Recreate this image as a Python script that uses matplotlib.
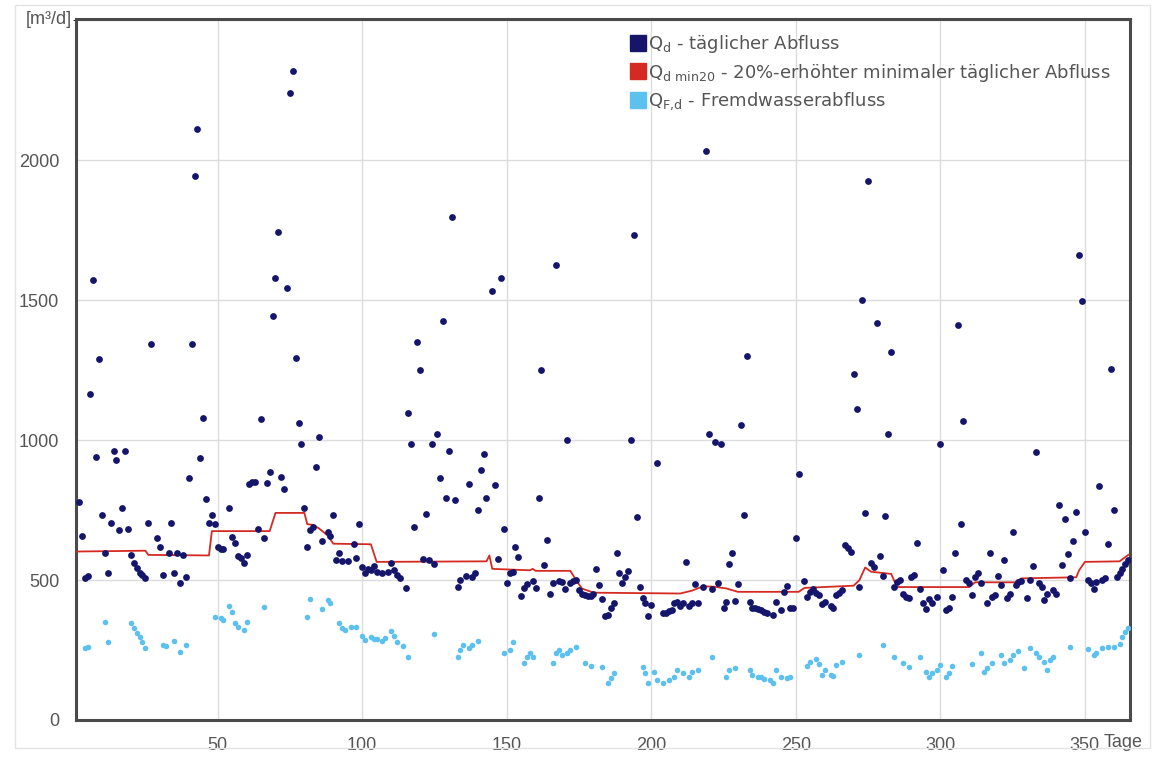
import matplotlib
matplotlib.use("Agg")
import matplotlib.pyplot as plt
from matplotlib.lines import Line2D
from matplotlib.patches import Rectangle

plt.rcParams['font.family'] = ['Liberation Sans', 'DejaVu Sans']

# ---- data -------------------------------------------------------------
qd_days = [2, 3, 4, 5, 6, 7, 8, 9, 10, 11, 12, 13, 14, 15, 16, 17, 18, 19, 20, 21,
           22, 23, 24, 25, 26, 27, 29, 30, 31, 33, 34, 35, 36, 37, 38, 39, 40, 41, 42, 43,
           44, 45, 46, 47, 48, 49, 50, 51, 52, 54, 55, 56, 57, 58, 59, 60, 61, 62, 63, 64,
           65, 66, 67, 68, 69, 70, 71, 72, 73, 74, 75, 76, 77, 78, 79, 80, 81, 82, 83, 84,
           85, 86, 88, 89, 90, 91, 92, 93, 95, 97, 98, 99, 100, 101, 102, 103, 104, 105, 107, 109,
           110, 111, 112, 113, 115, 116, 117, 118, 119, 120, 121, 122, 123, 124, 125, 126, 127, 128, 129, 130,
           131, 132, 133, 134, 136, 137, 138, 139, 140, 141, 142, 143, 145, 146, 147, 148, 149, 150, 151, 152,
           153, 154, 155, 156, 157, 159, 160, 161, 162, 163, 164, 165, 166, 167, 168, 169, 170, 171, 172, 173,
           174, 175, 176, 177, 178, 179, 180, 181, 182, 183, 184, 185, 186, 187, 188, 189, 190, 191, 192, 193,
           194, 195, 196, 197, 198, 199, 200, 202, 204, 205, 206, 207, 208, 209, 210, 211, 212, 213, 214, 215,
           216, 218, 219, 220, 221, 222, 223, 224, 225, 226, 227, 228, 229, 230, 231, 232, 233, 234, 235, 236,
           237, 238, 239, 240, 242, 243, 245, 246, 247, 248, 249, 250, 251, 253, 254, 255, 256, 257, 258, 259,
           260, 262, 263, 264, 265, 266, 267, 268, 269, 270, 271, 272, 273, 274, 275, 276, 277, 278, 279, 280,
           281, 282, 283, 284, 285, 286, 287, 288, 289, 290, 291, 292, 293, 294, 295, 296, 297, 299, 300, 301,
           302, 303, 304, 305, 306, 307, 308, 309, 310, 311, 312, 313, 314, 316, 317, 318, 319, 320, 321, 322,
           323, 324, 325, 326, 327, 328, 330, 331, 332, 333, 334, 335, 336, 337, 339, 340, 341, 342, 343, 344,
           345, 346, 347, 348, 349, 350, 351, 352, 353, 354, 355, 356, 357, 358, 359, 360, 361, 362, 363, 364,
           365]
qd_vals = [780, 657, 507, 514, 1164, 1571, 939, 1289, 732, 596, 526, 705, 962, 930, 679, 757, 960, 682, 590, 560,
           542, 526, 517, 506, 705, 1345, 649, 618, 517, 595, 705, 524, 596, 490, 589, 512, 864, 1345, 1943, 2111,
           936, 1079, 790, 703, 732, 700, 619, 610, 610, 758, 655, 631, 587, 578, 562, 589, 842, 851, 851, 681,
           1077, 650, 846, 887, 1443, 1579, 1743, 869, 825, 1543, 2239, 2318, 1293, 1063, 988, 758, 617, 678, 690, 905,
           1012, 640, 673, 657, 732, 571, 596, 569, 569, 628, 580, 700, 548, 526, 538, 535, 550, 530, 526, 530,
           562, 535, 518, 506, 470, 1098, 988, 690, 1350, 1250, 574, 736, 571, 988, 556, 1021, 863, 1425, 795, 961,
           1797, 786, 474, 500, 514, 845, 512, 524, 750, 895, 950, 795, 1533, 839, 574, 1580, 684, 490, 526, 530,
           619, 581, 443, 470, 486, 498, 470, 795, 1250, 553, 645, 452, 488, 1625, 498, 494, 467, 1000, 488, 498,
           500, 464, 452, 446, 443, 443, 450, 541, 482, 431, 371, 375, 399, 417, 598, 524, 488, 512, 533, 1002,
           1733, 726, 476, 435, 417, 371, 411, 919, 383, 383, 390, 393, 417, 423, 407, 417, 565, 407, 417, 486,
           419, 476, 2035, 1021, 467, 994, 490, 988, 399, 423, 557, 595, 426, 486, 1054, 732, 1300, 423, 402, 399,
           395, 393, 387, 381, 375, 423, 393, 458, 479, 399, 402, 649, 879, 498, 440, 458, 467, 455, 446, 414,
           423, 407, 402, 446, 455, 464, 625, 613, 601, 1235, 1113, 476, 1500, 740, 1925, 560, 548, 1420, 587, 514,
           729, 1021, 1315, 476, 494, 502, 452, 440, 435, 512, 518, 633, 467, 417, 395, 431, 417, 440, 988, 536,
           393, 399, 440, 595, 1410, 700, 1069, 500, 490, 446, 512, 526, 488, 417, 595, 438, 446, 514, 482, 571,
           435, 452, 673, 482, 494, 498, 435, 500, 550, 958, 490, 476, 429, 452, 464, 450, 768, 553, 717, 593,
           506, 640, 744, 1660, 1497, 673, 502, 488, 467, 494, 836, 502, 506, 628, 1253, 752, 512, 524, 541, 557,
           571]

qmin_days = [1, 25, 26, 47, 48, 68, 70, 80, 81, 83, 85, 88, 90, 103, 105, 143, 144, 145, 158, 159,
             160, 172, 174, 176, 180, 210, 214, 218, 222, 226, 230, 251, 253, 270, 272, 274, 276, 283, 285, 310,
             312, 326, 328, 347, 348, 350, 362, 365]
qmin_vals = [602, 605, 590, 588, 675, 675, 740, 740, 700, 697, 685, 660, 630, 628, 565, 567, 588, 540, 535, 540,
             533, 533, 500, 470, 455, 452, 462, 478, 476, 470, 458, 458, 472, 480, 500, 545, 530, 522, 475, 475,
             492, 492, 506, 510, 535, 565, 567, 590]

qf_days = [4, 5, 11, 12, 20, 21, 22, 23, 24, 25, 31, 32, 35, 37, 39, 49, 51, 52, 54, 55,
           56, 57, 59, 60, 66, 81, 82, 86, 88, 89, 92, 93, 94, 96, 98, 100, 101, 103, 104, 105,
           107, 108, 110, 111, 112, 114, 116, 125, 133, 134, 135, 137, 138, 140, 149, 151, 152, 156, 157, 158,
           159, 166, 167, 168, 169, 171, 172, 174, 177, 179, 183, 185, 186, 187, 197, 198, 199, 201, 202, 204,
           206, 208, 209, 211, 213, 214, 216, 221, 226, 227, 229, 234, 235, 237, 238, 239, 241, 242, 243, 245,
           247, 248, 254, 255, 257, 258, 259, 260, 262, 263, 264, 266, 272, 280, 284, 287, 289, 293, 295, 296,
           297, 299, 300, 302, 303, 304, 311, 314, 315, 316, 318, 321, 322, 324, 325, 327, 329, 331, 333, 334,
           336, 337, 338, 339, 345, 351, 353, 354, 356, 358, 360, 362, 363, 364, 365]
qf_vals = [256, 262, 351, 280, 345, 327, 312, 298, 280, 259, 268, 264, 283, 244, 268, 369, 363, 357, 407, 387,
           345, 333, 321, 351, 405, 369, 434, 395, 429, 417, 345, 327, 323, 331, 333, 300, 286, 298, 288, 288,
           283, 292, 319, 300, 280, 264, 226, 307, 226, 250, 268, 259, 268, 283, 238, 250, 280, 202, 226, 238,
           226, 202, 238, 250, 232, 238, 250, 262, 202, 193, 188, 131, 149, 167, 190, 167, 131, 173, 143, 131,
           143, 155, 179, 167, 155, 170, 179, 226, 155, 179, 185, 179, 161, 155, 152, 145, 143, 131, 179, 152,
           149, 155, 193, 208, 217, 200, 161, 179, 161, 157, 196, 208, 232, 268, 226, 202, 190, 226, 173, 155,
           167, 179, 196, 152, 167, 193, 200, 238, 173, 185, 205, 232, 202, 214, 232, 248, 185, 256, 238, 226,
           208, 179, 214, 226, 262, 252, 232, 238, 259, 262, 262, 273, 298, 315, 327]

x_ticks = [50, 100, 150, 200, 250, 300, 350]
y_ticks = [0, 500, 1000, 1500, 2000]
labels = ['Q$_{\\mathregular{d}}$ - täglicher Abfluss',
          'Q$_{\\mathregular{d\\ min20}}$ - 20%-erhöhter minimaler täglicher Abfluss',
          'Q$_{\\mathregular{F{,}d}}$ - Fremdwasserabfluss']

# ---- style ------------------------------------------------------------
c_qd = '#15166b'
c_min = '#d42a22'
c_qf = '#5cc1ee'
c_txt = '#555555'

fig = plt.figure(figsize=(11.71, 7.57), dpi=100)
ax = fig.add_axes([76 / 1171, 1 - 720 / 757, (1130 - 76) / 1171, (720 - 19) / 757])

fig.patches.append(Rectangle((15 / 1171, 1 - 748 / 757), 1135 / 1171, 743 / 757,
                             transform=fig.transFigure, fill=False,
                             edgecolor='#e4e4e4', linewidth=1.0))

ax.set_xlim(1, 365.6)
ax.set_ylim(0, 2505)
ax.set_xticks(x_ticks)
ax.set_yticks(y_ticks)
ax.set_yticks([2500], minor=True)
ax.grid(True, which='both', color='#dcdcdc', linewidth=1.0)
ax.set_axisbelow(True)
ax.tick_params(length=0, labelsize=13, labelcolor=c_txt, pad=12)
for s in ax.spines.values():
    s.set_color('#4a4a4a')
    s.set_linewidth(2.2)

ax.scatter(qf_days, qf_vals, s=16, color=c_qf, linewidths=0, zorder=3)
ax.plot(qmin_days, qmin_vals, color=c_min, linewidth=1.3, zorder=4)
ax.scatter(qd_days, qd_vals, s=24, color=c_qd, linewidths=0, zorder=5)

ax.text(-0.004, 1.0, '[m³/d]', transform=ax.transAxes, ha='right', va='center',
        fontsize=13, color=c_txt)
ax.text((1104 - 76) / 1054, -0.032, 'Tage', transform=ax.transAxes, ha='left', va='center',
        fontsize=13, color=c_txt)

handles = [Line2D([], [], linestyle='none', marker='s', markersize=11, color=c)
           for c in (c_qd, c_min, c_qf)]
leg = ax.legend(handles, labels, loc='upper left', bbox_to_anchor=(0.52, 0.99),
                frameon=False, handlelength=0.75, handletextpad=0.15,
                labelspacing=0.36, borderaxespad=0,
                prop={'family': ['DejaVu Sans'], 'size': 13})
for t in leg.get_texts():
    t.set_color(c_txt)

fig.savefig('out.png', dpi=100)
